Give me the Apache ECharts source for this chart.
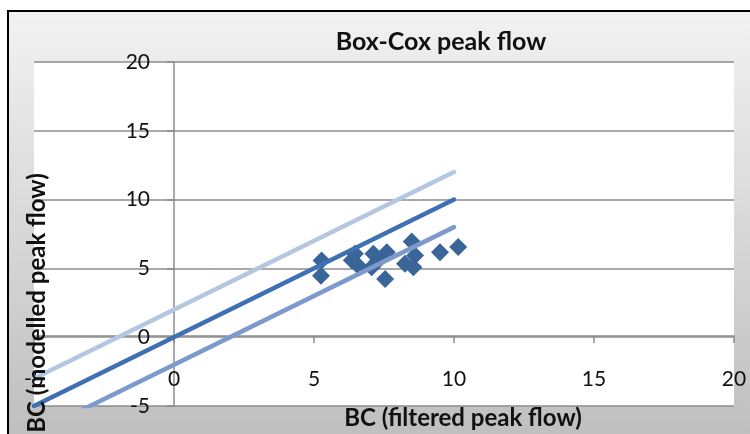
<!DOCTYPE html>
<html>
<head>
<meta charset="utf-8">
<script src="https://cdn.jsdelivr.net/npm/echarts@6/dist/echarts.min.js"></script>
<style>
  html, body { margin: 0; padding: 0; background: #fff; }
  #chart { width: 750px; height: 434px; }
</style>
</head>
<body>
<div id="chart"></div>
<script>
// filtered vs modelled peak flow (Box-Cox)
var filteredBC = [5.27, 5.25, 6.46, 6.35, 6.58, 7.12, 7.06, 7.30, 7.60, 7.54, 8.49, 8.61, 8.25, 8.55, 9.50, 10.15];
var modelledBC = [5.57, 4.47, 6.06, 5.60, 5.20, 6.06, 5.09, 5.60, 6.18, 4.23, 6.96, 5.93, 5.33, 5.09, 6.18, 6.55];

// 1:1 line and the +/-2 band
var lineX = [-5, 10];
var lineMid = [-5, 10];
var lineUpper = [-3, 12];
var lineLower = [-7, 8];

var axisTicks = [-5, 0, 5, 10, 15, 20];

function pairs(xs, ys) {
  var out = [];
  for (var i = 0; i < xs.length; i++) out.push([xs[i], ys[i]]);
  return out;
}

var font = 'Lato, "Open Sans", sans-serif';
var gridColor = '#8c8c8c';

var myChart = echarts.init(document.getElementById('chart'));

var option = {
  backgroundColor: '#ffffff',
  animation: false,
  grid: {
    left: 34, right: 16, top: 62, bottom: 28,
    containLabel: false,
    outerBoundsMode: 'none',
    show: true,
    backgroundColor: '#ffffff',
    borderWidth: 0
  },
  graphic: [
    {
      type: 'rect', z: -10, silent: true,
      shape: { x: 8, y: 11, width: 780, height: 460 },
      style: {
        stroke: '#000', lineWidth: 2,
        fill: {
          type: 'linear', x: 0, y: 0, x2: 0, y2: 1,
          colorStops: [{ offset: 0, color: '#f2f2f2' }, { offset: 0.92, color: '#bfbfbf' }, { offset: 1, color: '#bbbbbb' }]
        }
      }
    },
    {
      type: 'text', z: 100, silent: true,
      x: 441, y: 42,
      style: { text: 'Box-Cox peak flow', font: 'bold 25px ' + font, fill: '#111', textAlign: 'center', textVerticalAlign: 'middle' }
    },
    {
      type: 'text', z: 100, silent: true,
      x: 463, y: 418,
      style: { text: 'BC (filtered peak flow)', font: 'bold 24px ' + font, fill: '#111', textAlign: 'center', textVerticalAlign: 'middle' }
    },
    {
      type: 'text', z: 100, silent: true,
      x: 37, y: 303, rotation: Math.PI / 2,
      style: { text: 'BC (modelled peak flow)', font: 'bold 24px ' + font, fill: '#111', textAlign: 'center', textVerticalAlign: 'middle' }
    }
  ],
  xAxis: {
    type: 'value',
    min: axisTicks[0], max: axisTicks[axisTicks.length - 1], interval: 5,
    // axis sits on y = 0 (70px above the plot bottom)
    offset: -70,
    axisLine: { show: true, onZero: false, lineStyle: { color: gridColor, width: 1.5 } },
    axisTick: { show: true, length: 7, lineStyle: { color: gridColor, width: 1.5 } },
    axisLabel: { margin: 33, color: '#111', fontSize: 21, fontFamily: font, showMinLabel: true, showMaxLabel: true },
    splitLine: { show: false }
  },
  yAxis: {
    type: 'value',
    min: axisTicks[0], max: axisTicks[axisTicks.length - 1], interval: 5,
    // axis sits on x = 0 (140px right of the plot's left edge)
    offset: -140,
    axisLine: { show: true, onZero: false, lineStyle: { color: gridColor, width: 1.5 } },
    axisTick: { show: true, length: 7, lineStyle: { color: gridColor, width: 1.5 } },
    axisLabel: { margin: 24, color: '#111', fontSize: 21, fontFamily: font, showMinLabel: true, showMaxLabel: true },
    splitLine: { show: true, lineStyle: { color: gridColor, width: 1.5 } }
  },
  series: [
    {
      name: 'points', type: 'scatter',
      symbol: 'diamond', symbolSize: 18,
      itemStyle: { color: '#3a6598', opacity: 1 },
      data: pairs(filteredBC, modelledBC),
      z: 2
    },
    {
      name: 'upper', type: 'line', showSymbol: false, symbol: 'none', z: 3,
      lineStyle: { color: '#b5c6e0', width: 4.5, cap: 'round' },
      data: pairs(lineX, lineUpper)
    },
    {
      name: '1:1', type: 'line', showSymbol: false, symbol: 'none', z: 3,
      lineStyle: { color: '#3e70b3', width: 4.5, cap: 'round' },
      data: pairs(lineX, lineMid)
    },
    {
      name: 'lower', type: 'line', showSymbol: false, symbol: 'none', z: 3,
      lineStyle: { color: '#7e9acd', width: 4.5, cap: 'round' },
      data: pairs(lineX, lineLower)
    }
  ]
};

myChart.setOption(option);
</script>
</body>
</html>
